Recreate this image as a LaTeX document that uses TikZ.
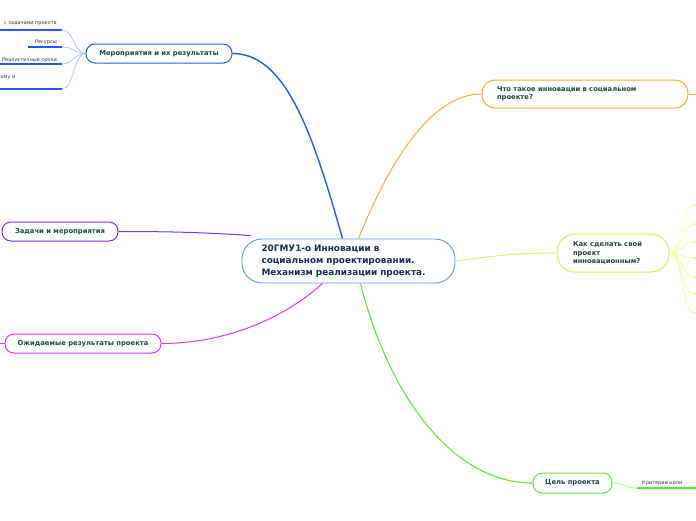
\documentclass[tikz,border=0pt]{standalone}
\usepackage{fontspec}
\setmainfont{DejaVu Sans}
\definecolor{txtgreen}{HTML}{1C4A3C}
\definecolor{txtnavy}{HTML}{1B2B52}
\definecolor{cblue}{HTML}{5B9BD5}
\definecolor{bblue}{HTML}{2458FF}
\definecolor{lblue}{HTML}{9DB8FF}
\definecolor{borange}{HTML}{FFAA33}
\definecolor{byellow}{HTML}{DDF044}
\definecolor{lyellow}{HTML}{EEFF99}
\definecolor{bgreen}{HTML}{55EE33}
\definecolor{lgreen}{HTML}{AAF590}
\definecolor{bpurple}{HTML}{7733FF}
\definecolor{bmagenta}{HTML}{EE33EE}
\tikzset{
  topic/.style={draw, line width=1pt, fill=white, inner sep=0pt,
    font=\fontsize{6.8}{8.2}\selectfont\bfseries, text=txtgreen, align=left},
  small/.style={inner sep=0pt, font=\fontsize{5}{6}\selectfont, text=black!80},
}
\begin{document}
\begin{tikzpicture}[x=1pt,y=-1pt]
\useasboundingbox (0,0) rectangle (696,520);

% central
\node[draw=cblue, line width=0.9pt, fill=white, rounded corners=20pt,
  minimum width=213pt, minimum height=44pt, inner sep=0pt, align=left,
  text width=174pt, text=txtnavy,
  font=\fontsize{8.9}{12}\selectfont\bfseries] (c) at (348.5,261)
  {20ГМУ1-о Инновации в\\социальном проектировании.\\Механизм реализации проекта.};

% main topics
\node[topic, draw=bblue, rounded corners=9pt, minimum width=146pt, minimum height=19pt] (m) at (159,53.5) {Мероприятия и их результаты};
\node[topic, draw=borange, rounded corners=13pt, minimum width=206pt, minimum height=28pt, text width=176pt] (o) at (585,94) {Что такое инновации в социальном\\проекте?};
\node[topic, draw=byellow, rounded corners=18pt, minimum width=112pt, minimum height=38pt, text width=80pt] (y) at (613,253) {Как сделать свой\\проект\\инновационным?};
\node[topic, draw=bgreen, rounded corners=9pt, minimum width=79pt, minimum height=20pt] (g) at (572.5,483) {Цель проекта};
\node[topic, draw=bpurple, rounded corners=9pt, minimum width=116pt, minimum height=19pt] (p) at (60,231.5) {Задачи и мероприятия};
\node[topic, draw=bmagenta, rounded corners=9pt, minimum width=156pt, minimum height=19pt] (q) at (83,343.5) {Ожидаемые результаты проекта};

% main connectors
\draw[bblue, line width=1.4pt] ([xshift=-6pt]c.north) .. controls (312,130) and (285,53.5) .. (m.east);
\draw[borange, line width=1pt] ([xshift=10pt]c.north) .. controls (388,165) and (430,94) .. (o.west);
\draw[byellow, line width=0.8pt] (c.east) .. controls (500,255) and (520,253) .. (y.west);
\draw[bgreen, line width=1.1pt] ([xshift=12pt]c.south) .. controls (390,400) and (455,483) .. (g.west);
\draw[bpurple, line width=1pt] ([xshift=-98pt,yshift=3pt]c.north) .. controls (200,232) and (160,231.5) .. (p.east);
\draw[bmagenta, line width=1pt] ([xshift=-26pt]c.south) .. controls (280,322) and (220,343.5) .. (q.east);
\draw[bmagenta, line width=1pt] (q.west) -- ++(-5,0);
\draw[borange, line width=1pt] (o.east) -- ++(8,0) coordinate (oe);
\draw[borange, line width=0.8pt] ([yshift=-3pt]oe) -- ([yshift=3pt]oe);

% blue sub-branches
\coordinate (b1) at (62,30);
\coordinate (b2) at (62,47);
\coordinate (b3) at (62,64);
\coordinate (b4) at (62,89);
\foreach \b in {b1,b2,b3,b4}
  \draw[lblue, line width=0.6pt] (m.west) .. controls ([xshift=-12pt]m.west) and ([xshift=12pt]\b) .. (\b);
\draw[bblue, line width=1.6pt] (b1) -- (0,30);
\draw[bblue, line width=1.6pt] (b2) -- (28,47);
\draw[bblue, line width=1.6pt] (b3) -- (0,64);
\draw[bblue, line width=1.6pt] (b4) -- (0,89);
\node[small, anchor=base east] (t1) at (57,24.5) {с задачами проекта};
\node[small, anchor=base east] (t2) at (57,43) {Ресурсы};
\node[small, anchor=base east] (t3) at (57,61) {Реалистичные сроки};
\node[small, anchor=base east] (t4) at (15.5,78) {ому и};

% yellow sub-branches
\foreach \yy in {205,224,242,258,277,294,313}{
  \coordinate (yy\yy) at (695,\yy);
  \draw[lyellow, line width=0.7pt] (y.east) .. controls (684,253) and (680,\yy) .. (yy\yy);
  \fill[byellow] (yy\yy) circle (0.9pt);
}

% green sub-branch
\coordinate (ga) at (637,488);
\coordinate (gb) at (696,488);
\draw[lgreen, line width=0.8pt] (g.east) .. controls (625,483) and (625,488) .. (ga);
\draw[bgreen, line width=1.6pt] (ga) -- (gb);
\node[small, anchor=base west] (gt) at (642,484.5) {Критерии цели};
\end{tikzpicture}
\end{document}
